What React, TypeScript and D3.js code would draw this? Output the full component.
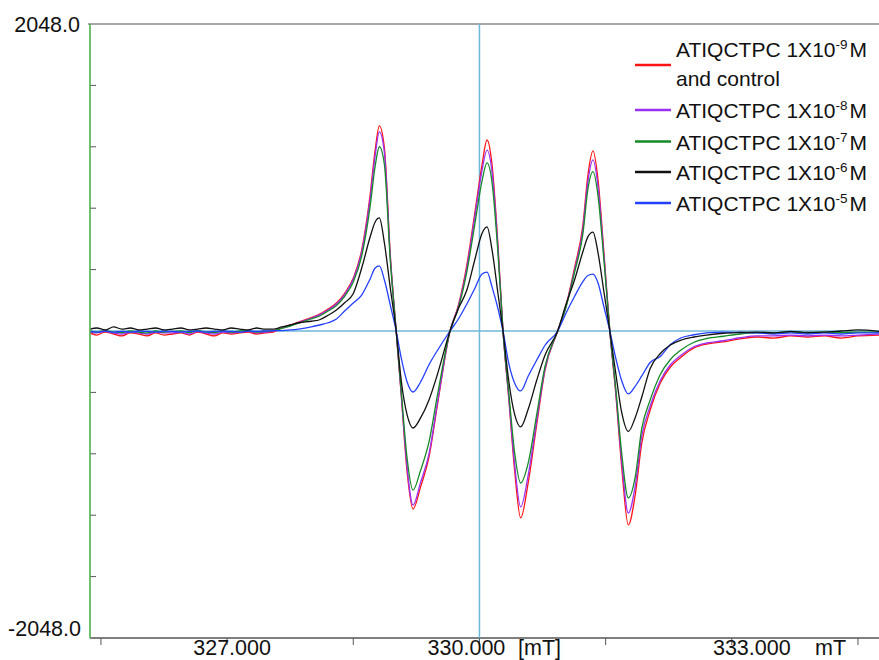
import React from 'react';
import * as d3 from 'd3';

// magnetic field [mT], shared by every trace
const field = [
  325.37, 325.45, 325.55, 325.65, 325.75, 325.85, 325.95, 326.05, 326.15, 326.25, 326.35, 326.45, 326.55,
  326.65, 326.75, 326.85, 326.95, 327.05, 327.15, 327.25, 327.35, 327.45, 327.55, 327.65, 327.75, 327.85,
  328.0, 328.1, 328.2, 328.3, 328.4, 328.5, 328.6, 328.7, 328.76, 328.81, 328.87, 328.94, 329.01, 329.07,
  329.14, 329.21, 329.3, 329.4, 329.5, 329.65,
  329.75, 329.85, 329.95, 330.03, 330.09, 330.15, 330.22, 330.28, 330.35, 330.42, 330.49, 330.58, 330.68,
  330.78, 330.93,
  331.03, 331.13, 331.23, 331.29, 331.35, 331.41, 331.48, 331.55, 331.62, 331.69, 331.77, 331.85, 331.93,
  332.03, 332.15, 332.27, 332.4, 332.55, 332.7, 332.9,
  333.1, 333.3, 333.5, 333.7, 333.9, 334.1, 334.3, 334.5, 334.75,
];

const red = [
  -13, -27, -7, -20, -33, -13, -20, -33, -13, -27, -20, -13, -27, -7, -20, -33, -13, -20, -13, -7, -20, -13, -7,
  20, 40, 60,
  90, 113, 147, 187, 253, 353, 540, 907, 1207, 1368, 1221, 507, 0, -427, -940, -1187, -1040, -840, -494, 0,
  173, 440, 807, 1107, 1274, 1107, 574, 0, -460, -940, -1247, -1010, -627, -260, 0,
  173, 420, 707, 1041, 1201, 1007, 520, 0, -414, -900, -1294, -1100, -747, -527, -347, -240, -173, -113, -87, -73,
  -53, -40, -47, -33, -40, -33, -47, -33, -27,
];

const purple = [
  -7, -13, -3, -13, -20, -7, -13, -20, -7, -13, -13, -7, -20, -3, -13, -20, -7, -13, -7, -3, -13, -7, 0,
  20, 37, 57,
  85, 108, 140, 180, 245, 345, 525, 880, 1170, 1329, 1190, 495, 0, -420, -910, -1161, -1010, -820, -480, 0,
  165, 420, 780, 1070, 1207, 1060, 555, 0, -450, -900, -1174, -960, -600, -250, 0,
  165, 405, 680, 1000, 1141, 960, 500, 0, -400, -860, -1214, -1040, -700, -500, -330, -225, -160, -105, -80, -65,
  -45, -33, -33, -27, -33, -27, -33, -27, -20,
];

const green = [
  0, -7, 3, -7, -10, 0, -7, -13, 0, -7, -3, 0, -10, 3, -7, -10, 0, -7, 0, 3, -7, 0, 3,
  17, 33, 53,
  80, 100, 133, 170, 233, 327, 500, 830, 1100, 1229, 1110, 470, 0, -400, -850, -1061, -930, -740, -430, 0,
  155, 395, 730, 1000, 1121, 990, 520, 0, -420, -820, -1014, -880, -560, -235, 0,
  160, 390, 650, 950, 1063, 900, 470, 0, -380, -810, -1114, -980, -650, -460, -290, -190, -125, -75, -50, -35,
  -20, -13, -13, -7, -13, -7, -10, -7, -7,
];

const black = [
  13, 20, 7, 27, 13, 20, 7, 13, 20, 7, 13, 20, 7, 13, 20, 13, 7, 20, 13, 7, 20, 13, 13,
  27, 40, 55,
  65, 75, 105, 140, 190, 250, 420, 627, 727, 754, 587, 287, 0, -330, -560, -647, -580, -460, -290, 0,
  150, 273, 487, 650, 694, 540, 250, 0, -340, -560, -640, -520, -330, -160, 0,
  180, 340, 530, 630, 660, 520, 260, 0, -280, -540, -670, -580, -440, -250, -150, -93, -60, -40, -27, -15,
  -10, -7, -13, -3, -10, -7, 0, 7, -3,
];

const blue = [
  -3, -7, 0, -7, -3, -7, 0, -3, -7, 0, -3, -7, -3, 0, -7, -3, 0, -3, -7, 0, -3, 0, 3,
  3, 7, 13,
  27, 40, 55, 80, 135, 187, 240, 347, 420, 434, 340, 173, 0, -180, -340, -407, -340, -225, -130, 0,
  80, 180, 290, 380, 393, 293, 150, 0, -220, -350, -400, -300, -195, -95, 0,
  120, 230, 330, 370, 380, 320, 160, 0, -180, -330, -420, -370, -300, -210, -170, -90, -45, -25, -12, -7,
  -10, -13, -20, -13, -20, -13, -20, -13, -13,
];

const series = [
  { exp: '-9', note: 'and control', color: '#ff1414', values: red },
  { exp: '-8', note: '', color: '#9a30f5', values: purple },
  { exp: '-7', note: '', color: '#168a26', values: green },
  { exp: '-6', note: '', color: '#111111', values: black },
  { exp: '-5', note: '', color: '#2440ff', values: blue },
];
const drawOrder = [0, 1, 2, 4, 3];

const yTicks = [-1638.4, -1228.8, -819.2, -409.6, 409.6, 819.2, 1228.8, 1638.4];
const majorTicks = [327, 330, 333];
const minorTicks = [325.5, 328.5, 331.5, 334.5];

const font = '"Liberation Sans", Arial, sans-serif';

export default function App() {
  const x = d3.scaleLinear().domain([325.37, 334.75]).range([90, 879]);
  const y = d3.scaleLinear().domain([-2048, 2048]).range([638, 24]);

  const line = d3
    .line<number>()
    .x((d, i) => x(field[i]))
    .y((d) => y(d))
    .curve(d3.curveMonotoneX);

  const labelShift = [5, -13, 20];
  const legendRows = [65, 110, 141.5, 172, 203];

  return (
    <svg width={879} height={660} style={{ position: 'absolute', left: 0, top: 0, background: '#fff' }}>
      <defs>
        <clipPath id="plot">
          <rect x={90} y={24} width={789} height={614} />
        </clipPath>
      </defs>

      {/* frame */}
      <line x1={88} x2={879} y1={24} y2={24} stroke="#8a8a8a" strokeWidth={1.5} />
      <line x1={90} x2={879} y1={638} y2={638} stroke="#555" strokeWidth={1.5} />

      {/* crosshair */}
      <line x1={x(330)} x2={x(330)} y1={24} y2={638} stroke="#6fb8d8" strokeWidth={1.5} />
      <line x1={90} x2={879} y1={y(0)} y2={y(0)} stroke="#6fb8d8" strokeWidth={1.5} />

      {yTicks.map((t) => (
        <line key={t} x1={90} x2={96} y1={y(t)} y2={y(t)} stroke="#555" strokeWidth={1} />
      ))}
      {[...majorTicks, ...minorTicks].map((t) => (
        <line key={t} x1={x(t)} x2={x(t)} y1={638} y2={645} stroke="#555" strokeWidth={1} />
      ))}

      <g clipPath="url(#plot)">
        {drawOrder.map((k) => (
          <path key={k} d={line(series[k].values) || ''} fill="none" stroke={series[k].color}
            strokeWidth={1.3} strokeLinejoin="round" />
        ))}
      </g>

      {/* left spine */}
      <line x1={90} x2={90} y1={24} y2={638} stroke="#4caf50" strokeWidth={1.6} />

      <g fontFamily={font} fontSize={21.5} fill="#111">
        <text x={80} y={32} textAnchor="end">2048.0</text>
        <text x={81} y={636} textAnchor="end">-2048.0</text>
        {majorTicks.map((t, i) => (
          <text key={t} x={x(t) + labelShift[i]} y={655} textAnchor="middle">{t.toFixed(3)}</text>
        ))}
        <text x={518} y={655}>[mT]</text>
        <text x={815} y={655}>mT</text>
      </g>

      <g fontFamily={font} fill="#111">
        {series.map((s, i) => {
          const cy = legendRows[i];
          const base = s.note ? cy - 8 : cy + 8;
          return (
            <g key={i}>
              <line x1={635} x2={671} y1={cy} y2={cy} stroke={s.color} strokeWidth={2.5} />
              <text x={676} y={base} fontSize={21}>
                ATIQCTPC 1X10
                <tspan fontSize={13.5} dy={-8}>{s.exp}</tspan>
                <tspan dy={8} dx={2}>M</tspan>
              </text>
              {s.note && (
                <text x={676} y={base + 29} fontSize={21}>{s.note}</text>
              )}
            </g>
          );
        })}
      </g>
    </svg>
  );
}
